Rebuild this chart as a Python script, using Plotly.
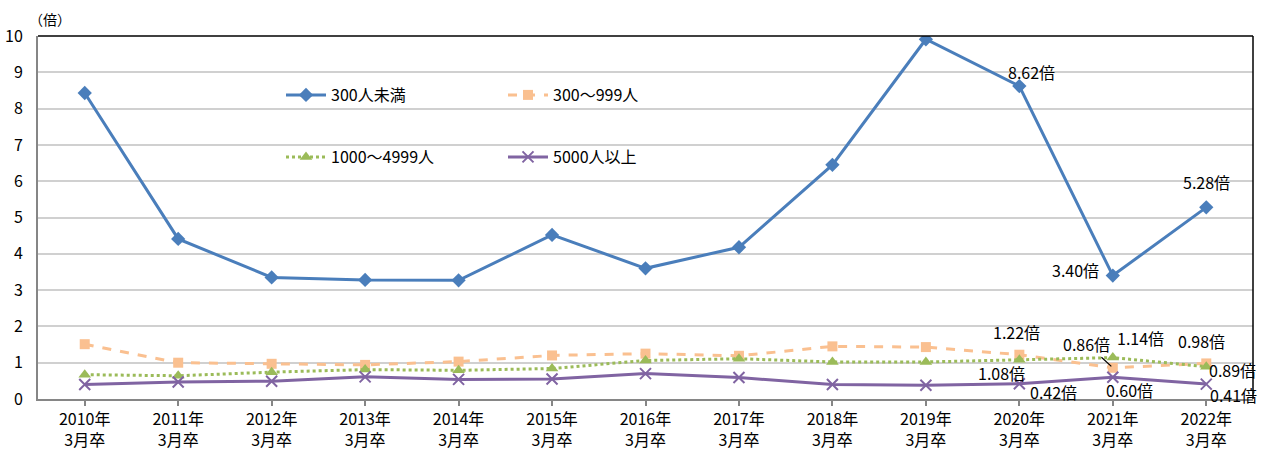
import plotly.graph_objects as go

categories = ["2010年<br>3月卒", "2011年<br>3月卒", "2012年<br>3月卒", "2013年<br>3月卒",
              "2014年<br>3月卒", "2015年<br>3月卒", "2016年<br>3月卒", "2017年<br>3月卒",
              "2018年<br>3月卒", "2019年<br>3月卒", "2020年<br>3月卒", "2021年<br>3月卒",
              "2022年<br>3月卒"]
under300 = [8.43, 4.41, 3.35, 3.28, 3.27, 4.52, 3.60, 4.18, 6.45, 9.91, 8.62, 3.40, 5.28]
s300_999 = [1.51, 1.00, 0.97, 0.94, 1.03, 1.20, 1.25, 1.19, 1.45, 1.43, 1.22, 0.86, 0.98]
s1000_4999 = [0.67, 0.64, 0.74, 0.81, 0.79, 0.84, 1.06, 1.11, 1.02, 1.02, 1.08, 1.14, 0.89]
over5000 = [0.40, 0.47, 0.49, 0.61, 0.54, 0.55, 0.70, 0.59, 0.40, 0.38, 0.42, 0.60, 0.41]
y_ticks = [0, 1, 2, 3, 4, 5, 6, 7, 8, 9, 10]

FONT = "Noto Sans CJK JP"
x_idx = list(range(len(categories)))

fig = go.Figure()
fig.add_trace(go.Scatter(x=x_idx, y=under300, name="300人未満", mode="lines+markers",
                         line=dict(color="#4A7EBB", width=3),
                         marker=dict(symbol="diamond", size=11, color="#4A7EBB"),
                         legend="legend"))
fig.add_trace(go.Scatter(x=x_idx, y=s300_999, name="300～999人", mode="lines+markers",
                         line=dict(color="#FAC090", width=3, dash="dash"),
                         marker=dict(symbol="square", size=10, color="#FAC090"),
                         legend="legend"))
fig.add_trace(go.Scatter(x=x_idx, y=s1000_4999, name="1000～4999人", mode="lines+markers",
                         line=dict(color="#9BBB59", width=3, dash="dot"),
                         marker=dict(symbol="triangle-up", size=11, color="#9BBB59"),
                         legend="legend2"))
fig.add_trace(go.Scatter(x=x_idx, y=over5000, name="5000人以上", mode="lines+markers",
                         line=dict(color="#8064A2", width=3),
                         marker=dict(symbol="x-thin", size=11, color="#8064A2",
                                     line=dict(color="#8064A2", width=2)),
                         legend="legend2"))

# data labels: (series values, index, xshift, yshift)
labels = [
    (under300, 10, 12, 14), (under300, 12, 0, 25), (under300, 11, -37, 6),
    (s300_999, 10, -3, 23), (s1000_4999, 10, -18, -13), (over5000, 10, 34, -8),
    (s1000_4999, 11, 28, 20), (over5000, 11, 17, -13),
    (s300_999, 12, -5, 22), (s1000_4999, 12, 26, -3), (over5000, 12, 27, -11),
]
for series, i, xs, ys in labels:
    fig.add_annotation(x=i, y=series[i], text=f"{series[i]:.2f}倍", showarrow=False,
                       xshift=xs, yshift=ys, font=dict(family=FONT, size=16, color="black"))
# leader-line label
fig.add_annotation(x=11, y=s300_999[11], text=f"{s300_999[11]:.2f}倍", showarrow=True,
                   ax=-26, ay=-24, arrowhead=0, arrowwidth=1.2, arrowcolor="black",
                   standoff=2, font=dict(family=FONT, size=16, color="black"))
# unit label
fig.add_annotation(xref="paper", yref="paper", x=(50 - 38) / 1215, y=(399 - 19) / 363,
                   text="（倍）", showarrow=False, xanchor="center", yanchor="middle",
                   font=dict(family=FONT, size=14, color="black"))

# plot frame top/right in black
fig.add_shape(type="line", xref="paper", yref="paper", x0=0, x1=1, y0=1, y1=1,
              line=dict(color="black", width=1.5))
fig.add_shape(type="line", xref="paper", yref="paper", x0=1, x1=1, y0=0, y1=1,
              line=dict(color="black", width=1.5))

legend_common = dict(orientation="h", xanchor="left", yanchor="middle",
                     bgcolor="rgba(0,0,0,0)", entrywidth=167, entrywidthmode="pixels",
                     font=dict(family=FONT, size=16, color="black"), itemwidth=40)

fig.update_layout(
    width=1273, height=452,
    margin=dict(l=38, r=20, t=36, b=53, autoexpand=False),
    paper_bgcolor="white", plot_bgcolor="white",
    font=dict(family=FONT, size=16, color="black"),
    legend=dict(x=(281 - 38) / 1215, y=(399 - 95) / 363, **legend_common),
    legend2=dict(x=(281 - 38) / 1215, y=(399 - 157) / 363, **legend_common),
    xaxis=dict(range=[-0.5, 12.5], tickmode="array", tickvals=x_idx, ticktext=categories,
               showgrid=False, showline=True, linecolor="#868686", linewidth=2,
               ticks="outside", ticklen=5, tickcolor="#868686", tickwidth=1.5,
               automargin=False,
               tickfont=dict(family=FONT, size=16, color="black"), zeroline=False),
    yaxis=dict(range=[0, 10], tickvals=y_ticks, showgrid=True, gridcolor="#D0D0D0",
               gridwidth=1.5, showline=True, linecolor="#868686", linewidth=2,
               ticks="", ticklabelstandoff=10, zeroline=False, automargin=False,
               tickfont=dict(family=FONT, size=16, color="black")),
)

fig.write_html("out.html", config={"displayModeBar": False},
               post_script="document.body.style.margin='0px';")
